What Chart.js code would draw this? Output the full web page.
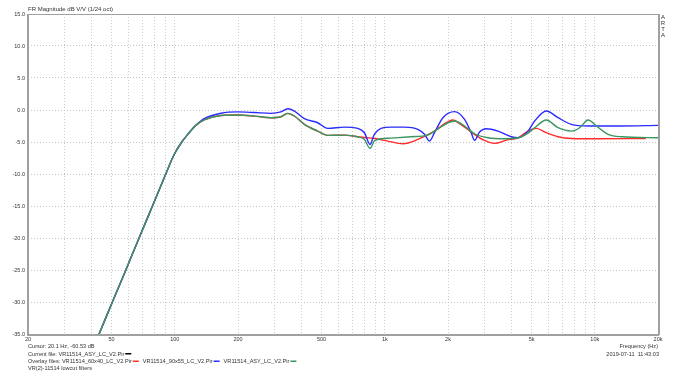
<!DOCTYPE html>
<html>
<head>
<meta charset="utf-8">
<script src="https://cdn.jsdelivr.net/npm/chart.js@4.4.1/dist/chart.umd.min.js"></script>
<style>
html,body{margin:0;padding:0;background:#fff;}
canvas{position:absolute;left:0;top:0;}
</style>
</head>
<body>
<canvas id="c" width="673" height="374"></canvas>
<script>
// ---- Data ----
const lowFreq = [38, 43.6, 50, 57.3, 67.6, 78.3, 90.6, 99.3, 108, 116, 125];
const lowDb   = [-39.7, -35, -30.3, -25.7, -20.0, -15.0, -10.0, -6.95, -5.0, -3.7, -2.5];

const blueFreq = [138, 166, 199, 240, 287, 320, 345, 371, 414, 479, 535, 642, 743, 800, 851, 892, 960, 1071, 1241, 1437, 1546, 1634, 1724, 1892, 2148, 2398, 2580, 2676, 2826, 3041, 3459, 4002, 4309, 4810, 5170, 5879, 6685, 7737, 9292, 13000, 20000];
const blueDb   = [-1.35, -0.5, -0.3, -0.4, -0.52, -0.3, 0.2, -0.16, -1.36, -1.99, -2.87, -2.67, -2.87, -3.55, -5.38, -3.8, -2.87, -2.67, -2.67, -3.03, -3.8, -4.86, -3.55, -1.2, -0.26, -1.46, -3.55, -4.76, -3.45, -2.93, -3.3, -4.18, -4.34, -3.3, -1.73, -0.16, -1.2, -2.25, -2.5, -2.5, -2.4];

const greenFreq = [138, 166, 199, 240, 287, 320, 345, 371, 414, 479, 535, 642, 743, 800, 851, 892, 960, 1071, 1335, 1594, 1778, 2000, 2148, 2398, 2676, 3098, 3718, 4309, 4810, 5170, 5879, 6685, 7737, 8473, 9292, 10180, 11575, 13460, 20000];
const greenDb   = [-1.55, -0.85, -0.78, -0.95, -1.2, -1.05, -0.52, -0.94, -2.25, -3.3, -3.97, -3.92, -4.18, -4.6, -6.0, -4.86, -4.5, -4.4, -4.18, -3.92, -3.03, -1.99, -1.73, -2.51, -3.71, -4.34, -4.5, -4.34, -3.6, -2.77, -1.57, -2.77, -3.3, -2.77, -1.57, -2.5, -3.8, -4.18, -4.34];

const redFreq = [138, 166, 199, 240, 287, 320, 345, 371, 414, 479, 535, 642, 743, 800, 892, 1034, 1219, 1437, 1724, 1960, 2110, 2300, 2580, 2985, 3332, 3800, 4309, 4810, 5268, 5879, 6685, 7737, 10000, 17500];
const redDb   = [-1.55, -0.85, -0.78, -0.95, -1.2, -1.05, -0.52, -0.94, -2.25, -3.3, -3.97, -3.92, -4.18, -4.3, -4.45, -4.86, -5.28, -4.6, -3.3, -1.99, -1.57, -2.25, -3.45, -4.76, -5.22, -4.7, -4.34, -3.3, -2.87, -3.55, -4.18, -4.45, -4.5, -4.45];

const gridFreqs = [20,30,40,50,60,70,80,90,100,200,300,400,500,600,700,800,900,1000,2000,3000,4000,5000,6000,7000,8000,9000,10000,20000];
const xLabelVals = [20, 50, 100, 200, 500, 1000, 2000, 5000, 10000, 20000];
const xLabels = ['20', '50', '100', '200', '500', '1k', '2k', '5k', '10k', '20k'];
const yTicks = [15, 10, 5, 0, -5, -10, -15, -20, -25, -30, -35];

const titleText = 'FR Magnitude dB V/V (1/24 oct)';
const cursorText = 'Cursor: 20.1 Hz, -60.53 dB';
const currentText = 'Current file: VR11514_ASY_LC_V2.Pir';
const overlayLabel = 'Overlay files: ';
const overlayNames = ['VR11514_60x40_LC_V2.Pir', 'VR11514_90x55_LC_V2.Pir', 'VR11514_ASY_LC_V2.Pir'];
const noteText = 'VR(2)-11514 lowcut filters';
const freqAxisText = 'Frequency (Hz)';
const dateText = '2019-07-11  11:43:03';

const RED = '#ff2a2a', BLUE = '#2b2bff', GREEN = '#3a9660';
const overlayColors = [RED, BLUE, GREEN];

function pts(f, d) {
  const a = lowFreq.map((x, i) => ({x, y: lowDb[i]}));
  return a.concat(f.map((x, i) => ({x, y: d[i]})));
}

const FONT = '"Liberation Sans", Arial, sans-serif';

const textPlugin = {
  id: 'artaText',
  afterDraw(chart) {
    const ctx = chart.ctx;
    const a = chart.chartArea;
    const xs = chart.scales.x, ys = chart.scales.y;
    ctx.save();
    // frame
    ctx.strokeStyle = '#a0a0a0';
    ctx.lineWidth = 1;
    ctx.strokeRect(a.left + 0.5, a.top + 0.5, a.right - a.left, a.bottom - a.top);
    ctx.lineWidth = 2;
    ctx.beginPath();
    ctx.moveTo(a.left, a.top); ctx.lineTo(a.left, a.bottom + 1); ctx.lineTo(a.right + 1, a.bottom + 1);
    ctx.moveTo(a.right + 1, a.top); ctx.lineTo(a.right + 1, a.bottom + 1);
    ctx.stroke();

    ctx.fillStyle = '#333';
    // y labels
    ctx.font = '5.5px ' + FONT;
    ctx.textAlign = 'right';
    ctx.textBaseline = 'middle';
    yTicks.forEach(v => {
      ctx.fillText(v.toFixed(1), a.left - 3, ys.getPixelForValue(v));
    });
    // x labels
    ctx.textAlign = 'center';
    ctx.textBaseline = 'top';
    xLabelVals.forEach((v, i) => {
      ctx.fillText(xLabels[i], xs.getPixelForValue(v), a.bottom + 3);
    });
    // title
    ctx.font = '6px ' + FONT;
    ctx.textAlign = 'left';
    ctx.textBaseline = 'alphabetic';
    ctx.fillText(titleText, a.left, a.top - 3);
    // ARTA vertical
    ctx.textAlign = 'center';
    ['A', 'R', 'T', 'A'].forEach((ch, i) => ctx.fillText(ch, a.right + 5, a.top + 5 + i * 6));
    // bottom left texts
    ctx.textAlign = 'left';
    ctx.font = '5.6px ' + FONT;
    const x0 = a.left;
    ctx.fillText(cursorText, x0, 348);
    ctx.fillText(currentText, x0, 355.5);
    let w = ctx.measureText(currentText).width;
    ctx.fillStyle = '#000';
    ctx.fillRect(x0 + w + 1, 353, 6, 1.5);
    ctx.fillStyle = '#333';
    let x = x0;
    ctx.fillText(overlayLabel, x, 363);
    x += ctx.measureText(overlayLabel).width;
    overlayNames.forEach((n, i) => {
      ctx.fillStyle = '#333';
      ctx.fillText(n, x, 363);
      x += ctx.measureText(n).width + 1;
      ctx.fillStyle = overlayColors[i];
      ctx.fillRect(x, 360.5, 6, 1.5);
      x += 10;
    });
    ctx.fillStyle = '#333';
    ctx.fillText(noteText, x0, 370);
    // bottom right
    ctx.textAlign = 'right';
    ctx.fillText(freqAxisText, a.right, 348);
    ctx.fillText(dateText, a.right + 1, 355.5);
    ctx.restore();
  }
};

new Chart(document.getElementById('c'), {
  type: 'line',
  data: {
    datasets: [
      {label: 'ASY', data: pts(greenFreq, greenDb), borderColor: GREEN, order: 1},
      {label: '90x55', data: pts(blueFreq, blueDb), borderColor: BLUE, order: 2},
      {label: '60x40', data: pts(redFreq, redDb), borderColor: RED, order: 3}
    ].map(d => Object.assign(d, {borderWidth: 1.4, pointRadius: 0, cubicInterpolationMode: 'monotone', fill: false}))
  },
  options: {
    responsive: false,
    animation: false,
    devicePixelRatio: 1,
    layout: {padding: {left: 28, top: 14, right: 15, bottom: 40}},
    plugins: {legend: {display: false}, tooltip: {enabled: false}},
    scales: {
      x: {
        type: 'logarithmic', min: 20, max: 20000,
        afterBuildTicks: s => { s.ticks = gridFreqs.map(v => ({value: v})); },
        afterFit: s => { s.height = 0; },
        ticks: {display: false},
        grid: {color: '#cccccc', lineWidth: 1, drawTicks: false},
        border: {display: false, dash: [1, 2]}
      },
      y: {
        type: 'linear', min: -35, max: 15,
        afterBuildTicks: s => { s.ticks = yTicks.map(v => ({value: v})); },
        afterFit: s => { s.width = 0; },
        ticks: {display: false},
        grid: {color: '#c4c4c4', lineWidth: 1, drawTicks: false},
        border: {display: false, dash: [1, 2]}
      }
    }
  },
  plugins: [textPlugin]
});
</script>
</body>
</html>
